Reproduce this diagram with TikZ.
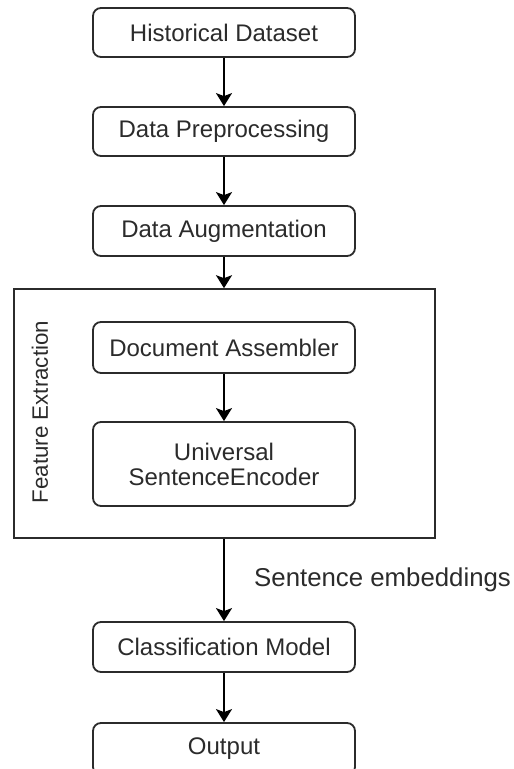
\documentclass[tikz,border=0pt]{standalone}
\usepackage{fontspec}
\setmainfont{Liberation Sans}
\usetikzlibrary{arrows.meta}
\definecolor{ink}{HTML}{2B2B2B}
\begin{document}
\begin{tikzpicture}[x=1pt,y=-1pt,
  procbox/.style={draw=ink, line width=1.8pt, rounded corners=8pt, fill=white,
    minimum width=262pt, inner sep=0pt, text=ink,
    font=\fontsize{24}{25}\selectfont, align=center},
  frame/.style={draw=ink, line width=1.6pt, inner sep=0pt},
  flow/.style={draw=black, line width=1.8pt,
    -{Stealth[length=13pt, width=16pt, inset=3pt]}}]
\useasboundingbox (0,0) rectangle (514,769);
\node[procbox, minimum height=49pt] (hist) at (224,32.5) {Historical Dataset};
\node[procbox, minimum height=49pt] (prep) at (224,131.5) {Data Preprocessing};
\node[procbox, minimum height=50pt] (aug) at (224,231) {Data Augmentation};
\node[frame, minimum width=421pt, minimum height=249pt] (fe) at (224.5,413.5) {};
\node[rotate=90, text=ink, font=\fontsize{22.3}{24}\selectfont] (felabel) at (40,412) {Feature Extraction};
\node[procbox, minimum height=51pt] (doc) at (224,347.5) {Document Assembler};
\node[procbox, minimum height=84pt] (use) at (224,464) {Universal\\SentenceEncoder};
\node[procbox, minimum height=50pt] (cls) at (224,647) {Classification Model};
\node[procbox, minimum height=52pt] (out) at (224,749) {Output};
\node[anchor=west, text=ink, font=\fontsize{25.8}{27}\selectfont, inner sep=0pt] (emb) at (254,580) {Sentence embeddings};
\draw[flow] (hist.south) -- (prep.north);
\draw[flow] (prep.south) -- (aug.north);
\draw[flow] (aug.south) -- (fe.north -| aug.south);
\draw[flow] (doc.south) -- (use.north);
\draw[flow] (fe.south -| use.south) -- (cls.north);
\draw[flow] (cls.south) -- (out.north);
\end{tikzpicture}
\end{document}
